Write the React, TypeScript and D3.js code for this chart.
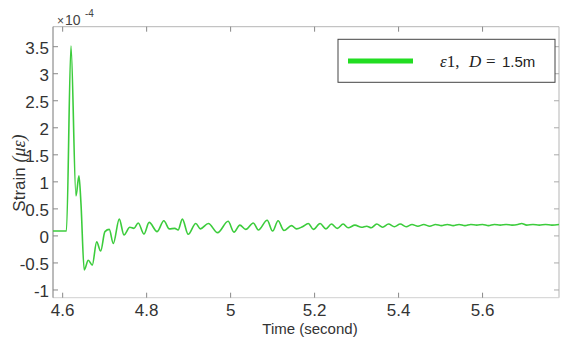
import React from 'react'
import * as d3 from 'd3'

// time (s) and strain (x1e-4)
const timeS = [
  4.577, 4.609, 4.6198, 4.6317, 4.6388, 4.6436, 4.6514, 4.661, 4.6705, 4.681,
  4.6905, 4.7007, 4.711, 4.7205, 4.7348, 4.746, 4.76, 4.7698, 4.78, 4.7936,
  4.806, 4.825, 4.841, 4.854, 4.867, 4.875, 4.885, 4.899, 4.917, 4.928,
  4.947, 4.969, 4.994, 5.008, 5.022, 5.036, 5.054, 5.066, 5.087, 5.1,
  5.113, 5.127, 5.145, 5.157, 5.171, 5.185, 5.197, 5.213, 5.227, 5.24,
  5.254, 5.268, 5.28, 5.296, 5.312, 5.324, 5.335, 5.348, 5.362, 5.376,
  5.39, 5.404, 5.418, 5.432, 5.446, 5.46, 5.474, 5.488, 5.502, 5.516,
  5.53, 5.544, 5.558, 5.572, 5.586, 5.6, 5.614, 5.628, 5.642, 5.656,
  5.67, 5.684, 5.693, 5.705, 5.72, 5.735, 5.75, 5.765, 5.782,
]
const strain = [
  0.09, 0.09, 3.51, 0.74, 1.11, 0.6, -0.63, -0.45, -0.54, -0.11,
  -0.28, 0.08, 0.12, -0.14, 0.31, 0.02, 0.16, 0.14, 0.24, 0.035,
  0.25, 0.08, 0.28, 0.13, 0.14, 0.11, 0.31, 0.03, 0.23, 0.13,
  0.23, 0.06, 0.27, 0.07, 0.2, 0.12, 0.24, 0.11, 0.29, 0.09,
  0.28, 0.1, 0.19, 0.13, 0.17, 0.23, 0.12, 0.23, 0.13, 0.22,
  0.14, 0.22, 0.15, 0.2, 0.16, 0.18, 0.15, 0.22, 0.16, 0.22,
  0.17, 0.22, 0.17, 0.21, 0.18, 0.21, 0.18, 0.21, 0.19, 0.21,
  0.19, 0.21, 0.19, 0.21, 0.2, 0.21, 0.19, 0.21, 0.2, 0.21,
  0.2, 0.21, 0.23, 0.2, 0.21, 0.2, 0.21, 0.2, 0.21,
]
const xTicks = [4.6, 4.8, 5, 5.2, 5.4, 5.6]
const xTickLabels = ['4.6', '4.8', '5', '5.2', '5.4', '5.6']
const yTicks = [-1, -0.5, 0, 0.5, 1, 1.5, 2, 2.5, 3, 3.5]
const yTickLabels = ['-1', '-0.5', '0', '0.5', '1', '1.5', '2', '2.5', '3', '3.5']

const W = 561
const H = 338
const box = { left: 53, right: 559, top: 26.7, bottom: 297.7 }
const sans = '"Liberation Sans", Arial, sans-serif'
const serif = '"Liberation Serif", "DejaVu Serif", serif'

export default function App() {
  const x = d3.scaleLinear().domain([4.577, 5.782]).range([box.left, box.right])
  const y = d3.scaleLinear().domain([-1.143, 3.87]).range([box.bottom, box.top])

  const pts: [number, number][] = timeS.map((t, i) => [t, strain[i]])
  const line = d3.line<[number, number]>()
    .x(d => x(d[0]))
    .y(d => y(d[1]))
    .curve(d3.curveMonotoneX)

  const tk = 5

  return (
    <svg width={W} height={H} style={{ position: 'absolute', left: 0, top: 0, background: '#fff' }}>
      <rect width={W} height={H} fill="#fff" />

      {/* box */}
      <line x1={box.left} x2={box.right} y1={box.top} y2={box.top} stroke="#b5b5b5" />
      <line x1={box.right} x2={box.right} y1={box.top} y2={box.bottom} stroke="#b5b5b5" />
      <line x1={box.left} x2={box.right} y1={box.bottom} y2={box.bottom} stroke="#d0d0d0" />
      <line x1={box.left} x2={box.left} y1={box.top} y2={box.bottom} stroke="#777" />

      {/* x ticks */}
      {xTicks.map((t, i) => (
        <g key={'x' + i}>
          <line x1={x(t)} x2={x(t)} y1={box.bottom} y2={box.bottom - tk} stroke="#888" />
          <line x1={x(t)} x2={x(t)} y1={box.top} y2={box.top + tk} stroke="#888" />
          <text x={x(t)} y={316} textAnchor="middle" fontFamily={sans} fontSize={17} fill="#333">
            {xTickLabels[i]}
          </text>
        </g>
      ))}

      {/* y ticks */}
      {yTicks.map((v, i) => (
        <g key={'y' + i}>
          <line x1={box.left} x2={box.left + tk} y1={y(v)} y2={y(v)} stroke="#888" />
          <line x1={box.right} x2={box.right - tk} y1={y(v)} y2={y(v)} stroke="#aaa" />
          <text x={49} y={y(v) + 7.5} textAnchor="end" fontFamily={sans} fontSize={17} fill="#333">
            {yTickLabels[i]}
          </text>
        </g>
      ))}

      {/* exponent */}
      <text x={57} y={25} fontFamily={sans} fontSize={14} fill="#444">
        <tspan fontSize={12}>×</tspan>
        <tspan x={65}>10</tspan>
        <tspan x={85} y={17} fontSize={10}>-4</tspan>
      </text>

      {/* axis titles */}
      <text x={310} y={334} textAnchor="middle" fontFamily={sans} fontSize={15} fill="#333">
        Time (second)
      </text>
      <text transform="translate(25,173) rotate(-90)" textAnchor="middle" fontFamily={sans} fontSize={17} fill="#333">
        Strain <tspan fontFamily={serif} fontStyle="italic" fontSize={18}>(με)</tspan>
      </text>

      {/* data */}
      <path d={line(pts) ?? ''} fill="none" stroke="#3ccc3c" strokeWidth={1.6} strokeLinejoin="round" />

      {/* legend */}
      <rect x={338} y={39.3} width={217} height={43} fill="#fff" stroke="#444" strokeWidth={1} />
      <line x1={348} x2={413} y1={61} y2={61} stroke="#22dd22" strokeWidth={5} />
      <text y={67} fontSize={17} fill="#222">
        <tspan x={440} fontFamily={serif} fontStyle="italic">ε</tspan>
        <tspan fontFamily={serif}>1,</tspan>
        <tspan x={469} fontFamily={serif} fontStyle="italic">D</tspan>
        <tspan x={486} fontFamily={serif}>=</tspan>
        <tspan x={502} fontFamily={sans} fontSize={15}>1.5m</tspan>
      </text>
    </svg>
  )
}
